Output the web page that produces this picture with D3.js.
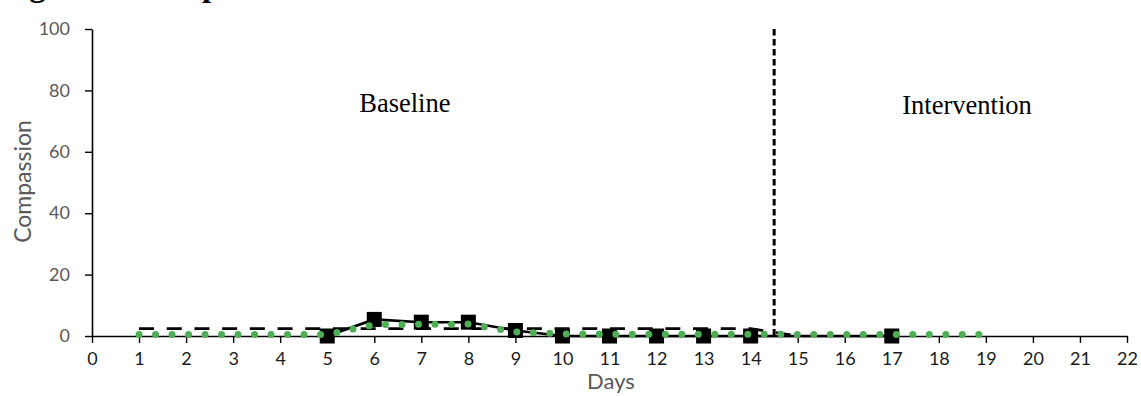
<!DOCTYPE html>
<html>
<head>
<meta charset="utf-8">
<script src="https://cdn.jsdelivr.net/npm/d3@7"></script>
<style>
  body { margin: 0; background: #fff; }
  svg { display: block; }
</style>
</head>
<body>
<svg id="chart"></svg>
<script>
// Observed compassion scores (black squares)
const obsDays = [5, 6, 7, 8, 9, 10, 11, 12, 13, 14, 17]
const obsValues = [0, 5.4, 4.5, 4.5, 1.8, 0, 0, 0, 0, 0, 0]

// Phase mean (black dashed line)
const meanDays = [1, 2, 3, 4, 5, 6, 7, 8, 9, 10, 11, 12, 13, 14, 15]
const meanValues = [2.4, 2.4, 2.4, 2.4, 2.4, 2.4, 2.4, 2.4, 2.4, 2.4, 2.4, 2.4, 2.4, 2.4, 0]

// Trend (green dotted line)
const trendDays = [1, 2, 3, 4, 5, 6, 7, 8, 9, 10, 11, 12, 13, 14, 15, 16, 17, 18, 19]
const trendValues = [0.5, 0.5, 0.5, 0.5, 0.5, 3.7, 3.8, 3.9, 1.3, 0.7, 0.6, 0.6, 0.6, 0.6, 0.5, 0.5, 0.5, 0.5, 0.5]

const xTicks = d3.range(0, 23)
const yTicks = [0, 20, 40, 60, 80, 100]
const phaseChange = 14.5
const phaseLabels = [{text: "Baseline", day: 6.65}, {text: "Intervention", day: 18.6}]

const width = 1141
const height = 396
const margin = {top: 29, right: 14, bottom: 60, left: 92}

const svg = d3.select("#chart")
    .attr("width", width)
    .attr("height", height)

let x = d3.scaleLinear()
    .domain([0, 22])
    .range([margin.left, width - margin.right])
let y = d3.scaleLinear()
    .domain([0, 100])
    .range([height - margin.bottom, margin.top])

// Title (cut off at top of the image, only descenders show)
svg.append("text")
    .attr("x", 0)
    .attr("y", 0)
    .attr("dy", -4)
    .attr("dominant-baseline", "alphabetic")
    .attr("font-family", "Liberation Serif, Times New Roman, serif")
    .attr("font-weight", "bold")
    .attr("font-size", 33)
    .attr("fill", "#000")
    .text("Figure 1. Compassion")

// Axes
let xAxis = svg.append("g")
    .attr("transform", `translate(0,${y(0)})`)
    .call(d3.axisBottom(x).tickValues(xTicks).tickFormat(d3.format("d")).tickSize(7).tickSizeOuter(0))
xAxis.select(".domain").attr("stroke", "#000").attr("stroke-width", 1.6)
xAxis.selectAll(".tick line").attr("stroke", "#000").attr("stroke-width", 1.4)
xAxis.selectAll(".tick text")
    .attr("y", 16)
    .attr("font-family", "Lato, sans-serif")
    .attr("font-size", 18)
    .attr("fill", "#1a1a1a")

let yAxis = svg.append("g")
    .attr("transform", `translate(${x(0)},0)`)
    .call(d3.axisLeft(y).tickValues(yTicks).tickSize(7).tickSizeOuter(0))
yAxis.select(".domain").attr("stroke", "#000").attr("stroke-width", 1.6)
yAxis.selectAll(".tick line").attr("stroke", "#000").attr("stroke-width", 1.4)
yAxis.selectAll(".tick text")
    .attr("x", -22)
    .attr("font-family", "Lato, sans-serif")
    .attr("font-size", 18)
    .attr("fill", "#595959")

// Axis titles
svg.append("text")
    .attr("transform", `translate(31,${(y(0) + y(100)) / 2 - 1}) rotate(-90)`)
    .attr("text-anchor", "middle")
    .attr("font-family", "Lato, sans-serif")
    .attr("font-size", 23)
    .attr("fill", "#595959")
    .text("Compassion")
svg.append("text")
    .attr("x", 611)
    .attr("y", 389)
    .attr("text-anchor", "middle")
    .attr("font-family", "Lato, sans-serif")
    .attr("font-size", 22)
    .attr("fill", "#595959")
    .text("Days")

// Phase change line
svg.append("line")
    .attr("x1", x(phaseChange)).attr("x2", x(phaseChange))
    .attr("y1", y(100)).attr("y2", y(0))
    .attr("stroke", "#000")
    .attr("stroke-width", 3)
    .attr("stroke-dasharray", "6.5,3.5")

// Phase labels
svg.selectAll(".phase")
    .data(phaseLabels)
  .enter().append("text")
    .attr("class", "phase")
    .attr("x", d => x(d.day))
    .attr("y", (d, i) => i ? 114 : 112)
    .attr("text-anchor", "middle")
    .attr("font-family", "Liberation Serif, Times New Roman, serif")
    .attr("font-size", 26.5)
    .attr("fill", "#000")
    .text(d => d.text)

// Mean line
let line = d3.line()
    .x(d => x(d[0]))
    .y(d => y(d[1]))
svg.append("path")
    .attr("d", line(d3.zip(meanDays, meanValues)))
    .attr("fill", "none")
    .attr("stroke", "#000")
    .attr("stroke-width", 2.6)
    .attr("stroke-dasharray", "15,12.7")

// Observed line + squares
let obs = d3.zip(obsDays, obsValues)
svg.append("path")
    .attr("d", line(obs))
    .attr("fill", "none")
    .attr("stroke", "#000")
    .attr("stroke-width", 2.6)
svg.selectAll(".pt")
    .data(obs)
  .enter().append("rect")
    .attr("class", "pt")
    .attr("x", d => x(d[0]) - 7.5)
    .attr("y", d => y(d[1]) - 7.5)
    .attr("width", 15)
    .attr("height", 15)
    .attr("fill", "#000")

// Trend line (green dotted)
svg.append("path")
    .attr("d", line(d3.zip(trendDays, trendValues)))
    .attr("fill", "none")
    .attr("stroke", "#4fae55")
    .attr("stroke-width", 7)
    .attr("stroke-linecap", "round")
    .attr("stroke-dasharray", "0,16.5")
</script>
</body>
</html>
